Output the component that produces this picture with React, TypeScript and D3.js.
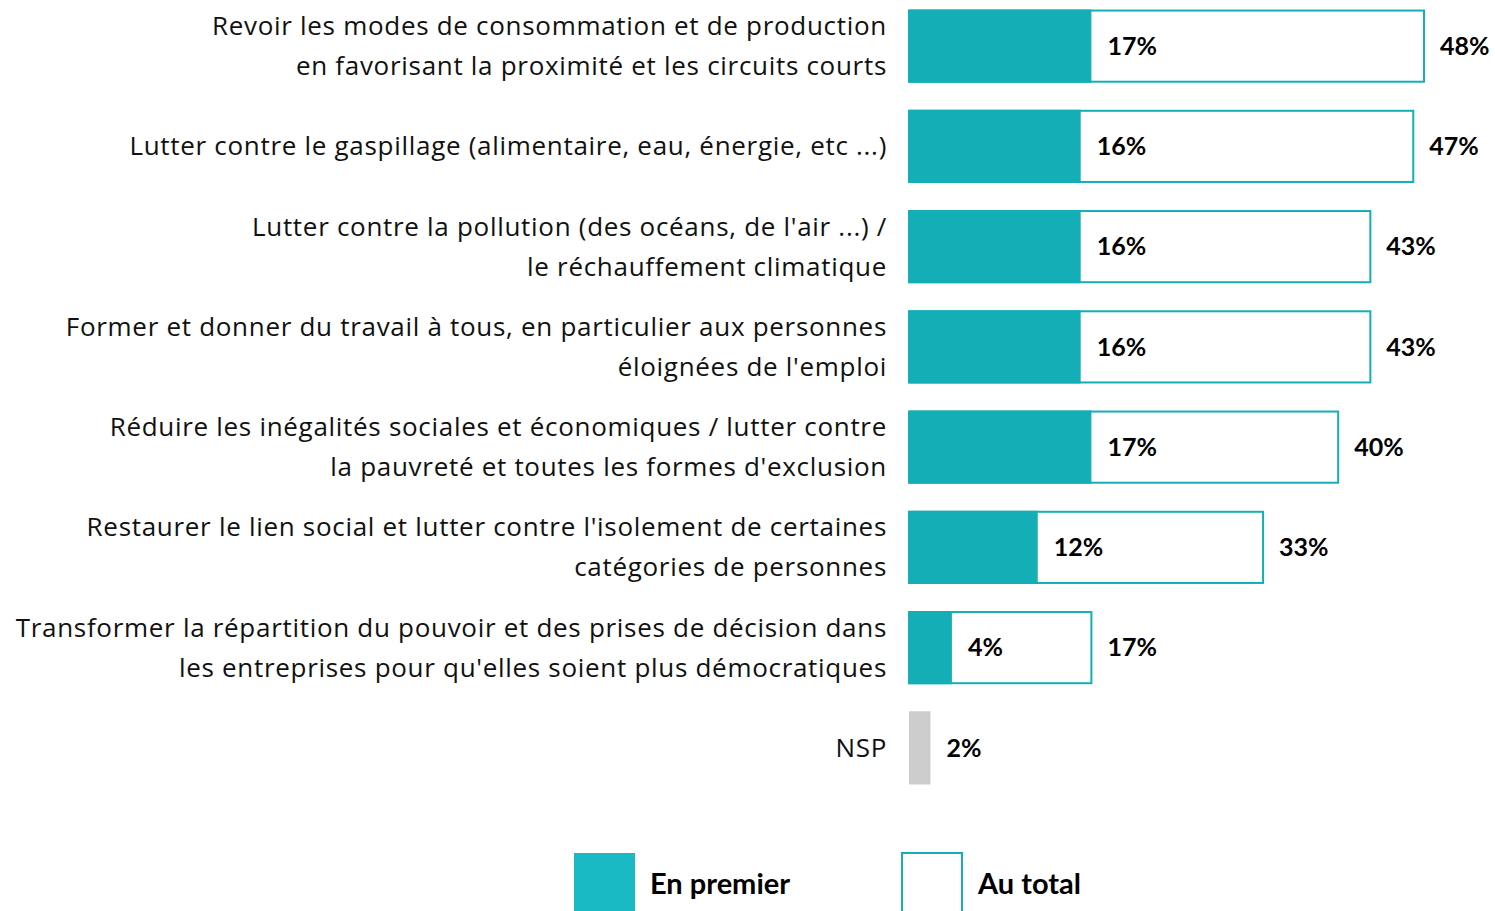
import React, { useEffect, useRef } from 'react';
import * as d3 from 'd3';

const categories: string[][] = [
  ['Revoir les modes de consommation et de production', 'en favorisant la proximité et les circuits courts'],
  ['Lutter contre le gaspillage (alimentaire, eau, énergie, etc ...)'],
  ["Lutter contre la pollution (des océans, de l'air ...) /", 'le réchauffement climatique'],
  ['Former et donner du travail à tous, en particulier aux personnes', "éloignées de l'emploi"],
  ['Réduire les inégalités sociales et économiques / lutter contre', "la pauvreté et toutes les formes d'exclusion"],
  ["Restaurer le lien social et lutter contre l'isolement de certaines", 'catégories de personnes'],
  ['Transformer la répartition du pouvoir et des prises de décision dans', "les entreprises pour qu'elles soient plus démocratiques"],
  ['NSP'],
];
const enPremier = [17, 16, 16, 16, 17, 12, 4, 2];
const auTotal = [48, 47, 43, 43, 40, 33, 17, null];

const TEAL = '#14afb6';
const GREY = '#cccccc';
const FONT = '"Open Sans", sans-serif';
const BOLD_FONT = 'Lato, "Open Sans", sans-serif';

const App = () => {
  const ref = useRef<SVGSVGElement>(null);

  useEffect(() => {
    const svg = d3.select(ref.current);
    svg.selectAll('*').remove();

    const x = d3.scaleLinear().domain([0, 48]).range([909, 1424]);
    const y = d3.scaleBand<number>()
      .domain(d3.range(categories.length))
      .range([-4, 798])
      .paddingInner(0.29)
      .paddingOuter(0.145);
    const bh = y.bandwidth();

    const rows = svg.selectAll('g.row')
      .data(categories)
      .enter().append('g')
      .attr('class', 'row');

    // libellés des catégories
    rows.each(function (lines, i) {
      const g = d3.select(this);
      const cy = y(i)! + bh / 2;
      lines.forEach((line, k) => {
        g.append('text')
          .attr('x', 887)
          .attr('y', cy + (k - (lines.length - 1) / 2) * 40)
          .attr('dy', '0.35em')
          .attr('text-anchor', 'end')
          .style('font-family', FONT)
          .style('font-size', '26px')
          .style('letter-spacing', '0.7px')
          .attr('fill', '#111')
          .text(line);
      });
    });

    // barres "au total" (contour)
    rows.filter((d, i) => auTotal[i] != null)
      .append('rect')
      .attr('x', x(0))
      .attr('y', (d, i) => y(i)!)
      .attr('width', (d, i) => x(auTotal[i]!) - x(0))
      .attr('height', bh)
      .attr('fill', '#fff')
      .attr('stroke', TEAL)
      .attr('stroke-width', 2);

    // barres "en premier"
    rows.append('rect')
      .attr('x', x(0))
      .attr('y', (d, i) => y(i)! - 1)
      .attr('width', (d, i) => x(enPremier[i]) - x(0))
      .attr('height', bh + 2)
      .attr('fill', (d, i) => (auTotal[i] == null ? GREY : TEAL));

    // valeurs
    rows.append('text')
      .attr('x', (d, i) => x(enPremier[i]) + 16)
      .attr('y', (d, i) => y(i)! + bh / 2)
      .attr('dy', '0.35em')
      .style('font-family', BOLD_FONT)
      .style('font-size', '25px')
      .style('font-weight', 'bold')
      .attr('fill', '#000')
      .text((d, i) => `${enPremier[i]}%`);

    rows.filter((d, i) => auTotal[i] != null)
      .append('text')
      .attr('x', (d, i) => x(auTotal[i]!) + 16)
      .attr('y', (d, i) => y(i)! + bh / 2)
      .attr('dy', '0.35em')
      .style('font-family', BOLD_FONT)
      .style('font-size', '25px')
      .style('font-weight', 'bold')
      .attr('fill', '#000')
      .text((d, i) => `${auTotal[i]}%`);

    // légende
    const legend = svg.append('g');
    legend.append('rect')
      .attr('x', 574).attr('y', 853).attr('width', 61).attr('height', 70)
      .attr('fill', '#19bac3');
    legend.append('text')
      .attr('x', 650).attr('y', 884).attr('dy', '0.35em')
      .style('font-family', BOLD_FONT).style('font-size', '29px').style('font-weight', 'bold')
      .text('En premier');
    legend.append('rect')
      .attr('x', 902).attr('y', 853).attr('width', 60).attr('height', 70)
      .attr('fill', '#fff').attr('stroke', TEAL).attr('stroke-width', 2);
    legend.append('text')
      .attr('x', 978).attr('y', 884).attr('dy', '0.35em')
      .style('font-family', BOLD_FONT).style('font-size', '29px').style('font-weight', 'bold')
      .text('Au total');
  }, []);

  return (
    <svg
      ref={ref}
      width={1495}
      height={911}
      style={{ position: 'absolute', left: 0, top: 0, background: '#fff' }}
    />
  );
};

export default App;
